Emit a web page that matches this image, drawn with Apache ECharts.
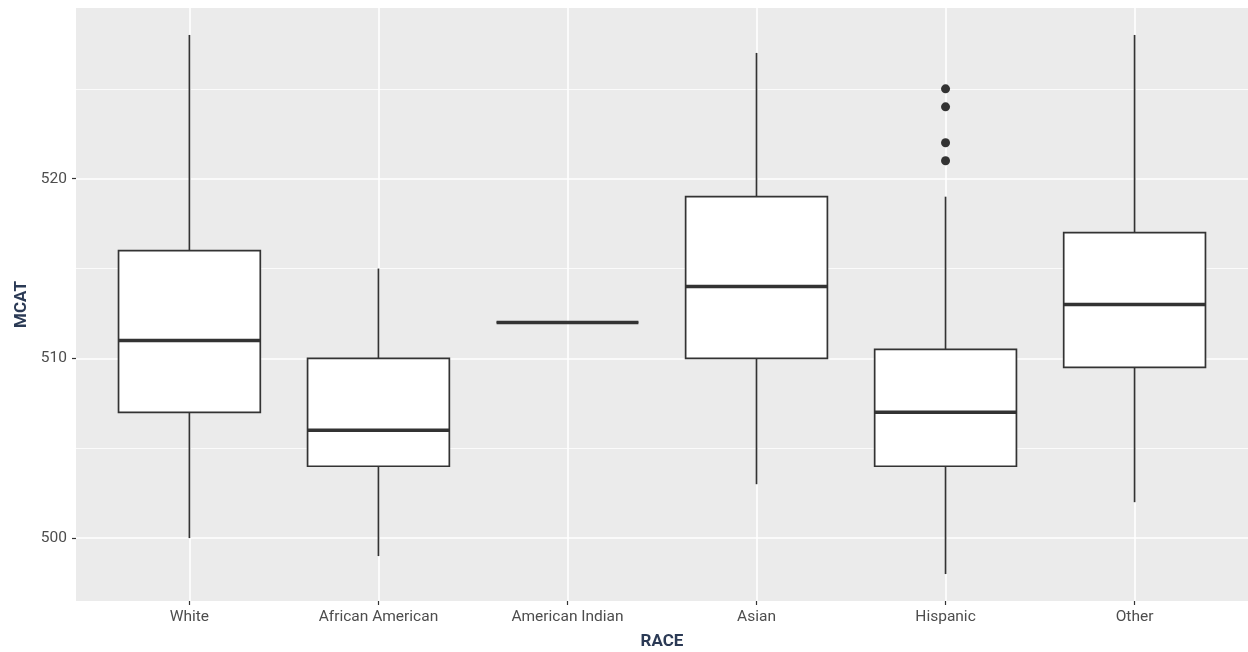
<!DOCTYPE html>
<html>
<head>
<meta charset="utf-8">
<script src="https://cdn.jsdelivr.net/npm/echarts@6/dist/echarts.min.js"></script>
<style>
html,body{margin:0;padding:0;background:#fff;}
#chart{width:1248px;height:652px;}
</style>
</head>
<body>
<div id="chart"></div>
<script>
const categories = ['White', 'African American', 'American Indian', 'Asian', 'Hispanic', 'Other'];
// [lower whisker, Q1, median, Q3, upper whisker]
const boxStats = [
  [500, 507, 511, 516, 528],
  [499, 504, 506, 510, 515],
  [512, 512, 512, 512, 512],
  [503, 510, 514, 519, 527],
  [498, 504, 507, 510.5, 519],
  [502, 509.5, 513, 517, 528]
];
const outliers = [
  ['Hispanic', 521],
  ['Hispanic', 522],
  ['Hispanic', 524],
  ['Hispanic', 525]
];
const yMajorTicks = [500, 510, 520];
const yMinorTicks = [505, 515, 525];

const FONT = 'Roboto';
const INK = '#333333';

const boxData = boxStats.map((s, i) => [i + 1].concat(s));
const outlierData = outliers.map(o => [categories.indexOf(o[0]) + 1, o[1]]);
const xTicks = categories.map((c, i) => i + 1);

const chart = echarts.init(document.getElementById('chart'));

function renderBox(params, api) {
  const x = api.value(0);
  const lo = api.coord([x, api.value(1)]);
  const q1 = api.coord([x, api.value(2)]);
  const med = api.coord([x, api.value(3)]);
  const q3 = api.coord([x, api.value(4)]);
  const hi = api.coord([x, api.value(5)]);
  const w = api.size([0.75, 0])[0];
  const cx = lo[0];
  const stroke = {stroke: INK, lineWidth: 1.7};
  const children = [
    {type: 'line', shape: {x1: cx, y1: q3[1], x2: cx, y2: hi[1]}, style: stroke},
    {type: 'line', shape: {x1: cx, y1: lo[1], x2: cx, y2: q1[1]}, style: stroke},
    {type: 'rect', shape: {x: cx - w / 2, y: q3[1], width: w, height: q1[1] - q3[1]},
      style: {fill: '#ffffff', stroke: INK, lineWidth: 1.7}},
    {type: 'line', shape: {x1: cx - w / 2, y1: med[1], x2: cx + w / 2, y2: med[1]},
      style: {stroke: INK, lineWidth: 3.4}}
  ];
  return {type: 'group', children: children};
}

const option = {
  backgroundColor: '#ffffff',
  animation: false,
  grid: {left: 76, right: 0, top: 8, bottom: 51, containLabel: false, outerBoundsMode: 'none',
    show: true, backgroundColor: '#EBEBEB', borderWidth: 0},
  xAxis: [{
    type: 'value', min: 0.4, max: 6.6,
    name: 'RACE', nameLocation: 'middle', nameGap: 32,
    nameTextStyle: {fontFamily: FONT, fontSize: 17, fontWeight: 'bold', color: '#2b3a55'},
    axisLine: {show: false},
    axisTick: {show: true, length: 4, customValues: xTicks, lineStyle: {color: INK, width: 1.2}},
    axisLabel: {customValues: xTicks, margin: 8, fontFamily: FONT, fontSize: 15.5, color: '#4d4d4d',
      formatter: v => categories[Math.round(v) - 1] || ''},
    splitLine: {show: true, lineStyle: {color: '#ffffff', width: 1.6}}
  }],
  yAxis: [{
    type: 'value', min: 496.5, max: 529.5,
    name: 'MCAT', nameLocation: 'middle', nameGap: 46, nameRotate: 90,
    nameTextStyle: {fontFamily: FONT, fontSize: 17, fontWeight: 'bold', color: '#2b3a55'},
    axisLine: {show: false},
    axisTick: {show: true, length: 4, customValues: yMajorTicks, lineStyle: {color: INK, width: 1.2}},
    axisLabel: {customValues: yMajorTicks, margin: 9, fontFamily: FONT, fontSize: 15.5, color: '#4d4d4d'},
    splitLine: {show: true, lineStyle: {color: '#ffffff', width: 1.6}}
  }, {
    type: 'value', min: 496.5, max: 529.5, position: 'left',
    axisLine: {show: false},
    axisTick: {show: false, customValues: yMinorTicks},
    axisLabel: {show: false, customValues: yMinorTicks},
    splitLine: {show: true, lineStyle: {color: '#ffffff', width: 0.8}}
  }],
  series: [{
    type: 'custom',
    renderItem: renderBox,
    data: boxData,
    encode: {x: 0, y: [1, 2, 3, 4, 5]},
    z: 3
  }, {
    type: 'scatter',
    data: outlierData,
    symbol: 'circle',
    symbolSize: 9,
    itemStyle: {color: INK, opacity: 1},
    z: 4
  }]
};
chart.setOption(option);
</script>
</body>
</html>
